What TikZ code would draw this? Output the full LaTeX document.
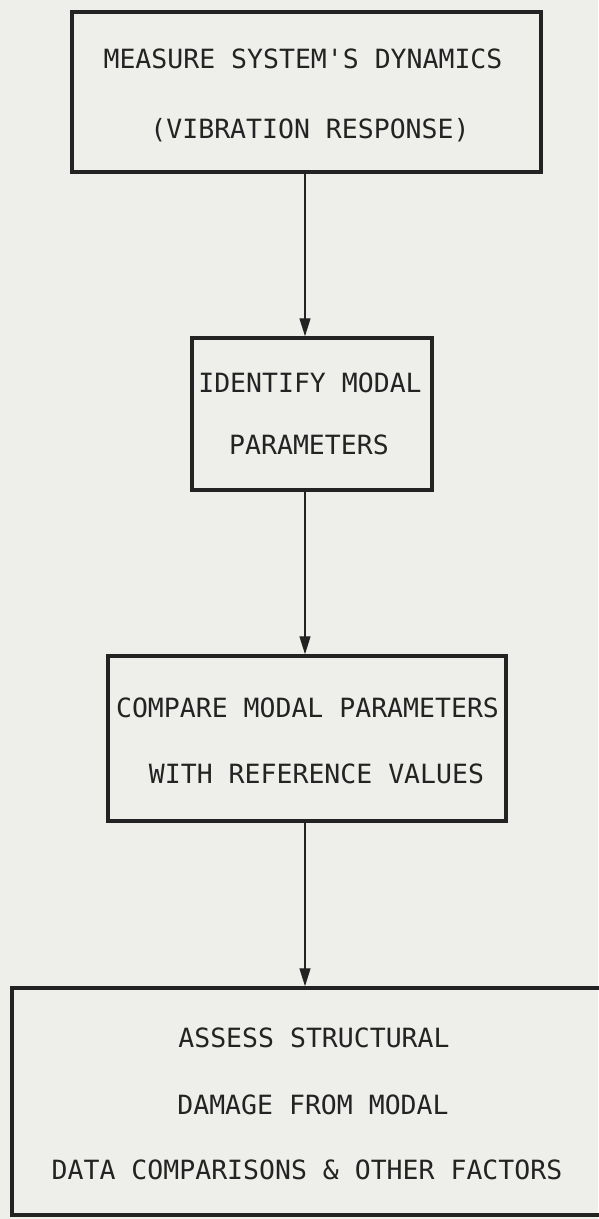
\documentclass[tikz,border=0pt]{standalone}
\usepackage{fontspec}
\setmonofont{DejaVu Sans Mono}
\usetikzlibrary{arrows.meta}
\definecolor{bg}{RGB}{238,238,235}
\definecolor{ink}{RGB}{35,35,35}
\tikzset{
  box/.style={draw=ink, line width=3.5pt, inner sep=0pt},
  txt/.style={text=ink, font=\ttfamily\fontsize{26.5}{30}\selectfont, inner sep=0pt, anchor=center},
  arr/.style={draw=ink, line width=1.3pt, -{Triangle[length=18pt,width=11pt]}}
}
\begin{document}
\begin{tikzpicture}[x=1pt,y=-1pt]
\fill[bg] (0,0) rectangle (598,1219);
\useasboundingbox (0,0) rectangle (598,1219);
% boxes
\node[box, minimum width=469pt, minimum height=160pt] (B1) at (306.5,92) {};
\node[box, minimum width=240pt, minimum height=152pt] (B2) at (312,414) {};
\node[box, minimum width=398pt, minimum height=165pt] (B3) at (307,738.5) {};
\node[box, minimum width=598pt, minimum height=227pt] (B4) at (311,1101.5) {};
% texts
\node[txt] (t1a) at (303,59) {MEASURE SYSTEM'S DYNAMICS};
\node[txt] (t1b) at (310,130) {(VIBRATION RESPONSE)};
\node[txt] (t2a) at (310,383) {IDENTIFY MODAL};
\node[txt] (t2b) at (309,445) {PARAMETERS};
\node[txt] (t3a) at (307.5,708) {COMPARE MODAL PARAMETERS};
\node[txt] (t3b) at (316.5,774) {WITH REFERENCE VALUES};
\node[txt] (t4a) at (314,1038) {ASSESS STRUCTURAL};
\node[txt] (t4b) at (313,1105) {DAMAGE FROM MODAL};
\node[txt] (t4c) at (307,1170) {DATA COMPARISONS \& OTHER FACTORS};
% connectors
\coordinate (ax) at (305,0);
\draw[arr] (B1.south -| ax) -- (B2.north -| ax);
\draw[arr] (B2.south -| ax) -- (B3.north -| ax);
\draw[arr] (B3.south -| ax) -- (B4.north -| ax);
\end{tikzpicture}
\end{document}
